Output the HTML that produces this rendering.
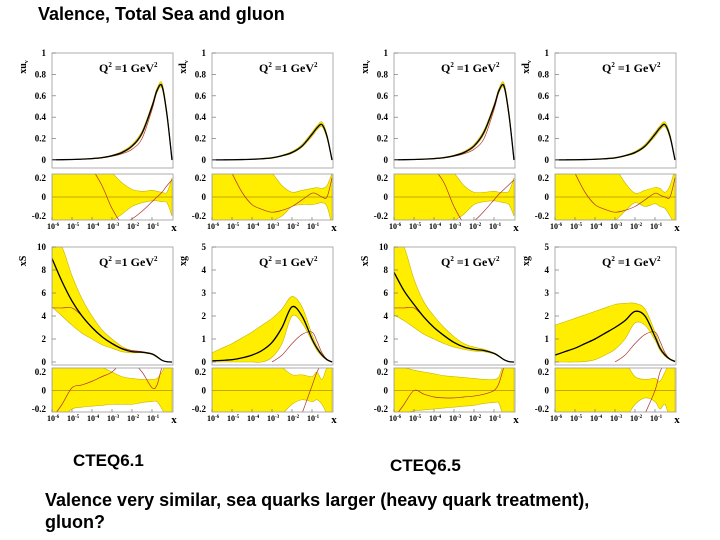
<!DOCTYPE html>
<html><head><meta charset="utf-8">
<style>
body{margin:0;background:#fff;width:720px;height:540px;overflow:hidden;position:relative;font-family:"Liberation Sans",sans-serif}
.t{position:absolute;font-weight:bold;color:#000;white-space:nowrap}
svg{position:absolute;left:0;top:0}
</style></head><body>
<div class="t" style="left:38px;top:4px;font-size:18px">Valence, Total Sea and gluon</div>
<div class="t" style="left:73px;top:451px;font-size:17px">CTEQ6.1</div>
<div class="t" style="left:390px;top:456px;font-size:17px">CTEQ6.5</div>
<div class="t" style="left:45px;top:489px;font-size:18px;line-height:22px">Valence very similar, sea quarks larger (heavy quark treatment),<br>gluon?</div>
<svg id="chart" width="720" height="540"></svg>
<script>
const logX=[-6,-5.5,-5,-4.5,-4,-3.5,-3,-2.5,-2,-1.5,-1,-0.75,-0.5,-0.25,0];
const n=null;
// Panel 1: xu_v CTEQ6.1
const p1C=[0.002,0.003,0.005,0.008,0.013,0.022,0.04,0.07,0.13,0.25,0.5,0.65,0.69,0.42,0];
const p1U=[0.003,0.004,0.006,0.01,0.016,0.026,0.045,0.08,0.145,0.27,0.52,0.67,0.72,0.45,0.01];
const p1L=[0.001,0.002,0.004,0.006,0.01,0.018,0.035,0.062,0.12,0.235,0.48,0.63,0.67,0.4,0];
const p1R=[0.002,0.003,0.005,0.008,0.013,0.02,0.035,0.058,0.1,0.2,0.47,0.64,0.7,0.43,0];
const p1RU=[0.3,0.3,0.3,0.3,0.3,0.3,0.25,0.15,0.08,0.06,0.07,0.06,0.05,0.05,0.2];
const p1RL=[-0.3,-0.3,-0.3,-0.3,-0.3,-0.3,-0.25,-0.18,-0.1,-0.06,-0.04,-0.04,-0.05,-0.06,-0.2];
const p1RR=[n,n,n,n,0.3,0.12,-0.12,-0.27,-0.23,-0.15,-0.05,0.0,0.05,0.12,0.18];
// Panel 2: xd_v CTEQ6.1
const p2C=[0.001,0.0015,0.002,0.004,0.007,0.012,0.02,0.04,0.07,0.13,0.24,0.3,0.33,0.22,0];
const p2U=[0.002,0.003,0.004,0.006,0.009,0.015,0.025,0.045,0.08,0.145,0.26,0.32,0.355,0.24,0.01];
const p2L=[0,0.001,0.001,0.002,0.005,0.009,0.016,0.035,0.062,0.12,0.22,0.28,0.31,0.2,0];
const p2R=[0.001,0.0015,0.002,0.004,0.007,0.012,0.02,0.038,0.068,0.13,0.245,0.3,0.33,0.22,0];
const p2RU=[0.3,0.3,0.3,0.3,0.3,0.3,0.25,0.12,0.05,0.07,0.09,0.1,0.09,0.12,0.25];
const p2RL=[-0.3,-0.3,-0.3,-0.3,-0.3,-0.3,-0.25,-0.2,-0.1,-0.08,-0.08,-0.07,-0.06,-0.1,-0.3];
const p2RR=[n,n,0.25,0.05,-0.08,-0.13,-0.16,-0.14,-0.1,-0.03,0.04,0.03,0.0,0.0,0.2];
// Panel 3: xu_v CTEQ6.5
const p3C=[0.002,0.003,0.005,0.008,0.013,0.022,0.04,0.07,0.13,0.26,0.5,0.65,0.69,0.42,0];
const p3U=[0.003,0.004,0.006,0.01,0.016,0.026,0.045,0.08,0.145,0.28,0.52,0.67,0.72,0.45,0.01];
const p3L=[0.001,0.002,0.004,0.006,0.01,0.018,0.035,0.062,0.12,0.24,0.48,0.63,0.67,0.4,0];
const p3R=[0.002,0.003,0.005,0.008,0.013,0.02,0.035,0.058,0.1,0.2,0.47,0.64,0.7,0.43,0];
const p3RU=[0.3,0.3,0.3,0.3,0.3,0.3,0.25,0.12,0.05,0.05,0.06,0.05,0.05,0.06,0.2];
const p3RL=[-0.3,-0.3,-0.3,-0.3,-0.3,-0.3,-0.25,-0.18,-0.08,-0.05,-0.04,-0.05,-0.06,-0.08,-0.2];
const p3RR=[n,n,n,n,0.3,0.15,-0.1,-0.27,-0.25,-0.15,-0.03,0.03,0.08,0.13,0.18];
// Panel 4: xd_v CTEQ6.5
const p4C=[0.001,0.0015,0.002,0.004,0.007,0.012,0.02,0.04,0.07,0.13,0.24,0.3,0.33,0.22,0];
const p4U=[0.002,0.003,0.004,0.006,0.009,0.015,0.025,0.045,0.08,0.145,0.26,0.32,0.355,0.24,0.01];
const p4L=[0,0.001,0.001,0.002,0.005,0.009,0.016,0.035,0.062,0.12,0.22,0.28,0.31,0.2,0];
const p4R=[0.001,0.0015,0.002,0.004,0.007,0.012,0.02,0.038,0.068,0.13,0.245,0.3,0.33,0.22,0];
const p4RU=[0.3,0.3,0.3,0.3,0.3,0.3,0.3,0.15,0.04,0.07,0.1,0.09,0.05,0.12,0.3];
const p4RL=[-0.3,-0.3,-0.3,-0.3,-0.3,-0.3,-0.25,-0.15,-0.06,-0.1,-0.07,-0.1,-0.12,-0.2,-0.3];
const p4RR=[n,n,0.25,0.05,-0.08,-0.13,-0.16,-0.14,-0.1,-0.03,0.04,0.02,0.0,0.0,0.2];
// Panel 5: xS CTEQ6.1
const p5C=[9,7,5.3,4,3,2.2,1.6,1.15,0.9,0.85,0.7,0.45,0.15,0.02,0];
const p5U=[11,10,7.5,5.5,4,2.8,2,1.35,1.0,0.9,0.75,0.5,0.17,0.03,0];
const p5L=[4.8,4,3.2,2.5,2,1.5,1.2,0.9,0.8,0.8,0.65,0.4,0.12,0.01,0];
const p5R=[4.7,4.7,4.7,4,3,2.2,1.65,1.2,1.0,0.9,0.72,0.45,0.15,0.02,0];
const p5RU=[0.3,0.3,0.3,0.3,0.3,0.25,0.2,0.15,0.13,0.12,0.12,0.13,0.2,0.3,0.3];
const p5RL=[-0.3,-0.3,-0.2,-0.18,-0.17,-0.16,-0.15,-0.15,-0.15,-0.13,-0.12,-0.12,-0.2,-0.3,-0.3];
const p5RR=[-0.3,-0.15,0.03,0.06,0.1,0.15,0.2,0.3,0.3,0.2,0.03,0.06,0.25,0.3,0.3];
// Panel 6: xg CTEQ6.1
const p6C=[0.05,0.07,0.1,0.18,0.3,0.5,0.85,1.5,2.4,2.0,1.0,0.6,0.3,0.1,0];
const p6U=[0.4,0.6,0.8,1.05,1.3,1.6,1.9,2.3,2.85,2.4,1.2,0.7,0.35,0.12,0.02];
const p6L=[0,0,0,0,0,0,0.2,0.8,2.0,1.7,0.9,0.5,0.25,0.08,0];
const p6R=[n,n,n,n,n,n,0,0.3,0.8,1.2,1.3,0.9,0.4,0.12,0];
const p6RU=[0.3,0.3,0.3,0.3,0.3,0.3,0.3,0.25,0.17,0.17,0.15,0.2,0.12,0.25,0.3];
const p6RL=[-0.3,-0.3,-0.3,-0.3,-0.3,-0.3,-0.3,-0.25,-0.15,-0.1,-0.12,-0.1,-0.15,-0.25,-0.3];
const p6RR=[n,n,n,n,n,n,n,n,n,-0.25,0.05,0.2,0.3,n,n];
// Panel 7: xS CTEQ6.5
const p7C=[7.8,6.2,5,3.9,3,2.3,1.7,1.3,1.1,1.0,0.75,0.5,0.2,0.03,0];
const p7U=[11,10,7.2,5.2,4,3,2.2,1.6,1.3,1.1,0.8,0.55,0.22,0.04,0];
const p7L=[4.1,3.6,3,2.4,2,1.6,1.3,1.1,0.95,0.9,0.7,0.45,0.18,0.02,0];
const p7R=[4.7,4.7,4.7,3.9,3,2.3,1.7,1.3,1.1,1.0,0.75,0.5,0.2,0.03,0];
const p7RU=[0.3,0.25,0.22,0.2,0.18,0.16,0.15,0.14,0.13,0.12,0.12,0.15,0.3,0.3,0.3];
const p7RL=[-0.3,-0.25,-0.22,-0.21,-0.2,-0.19,-0.18,-0.17,-0.16,-0.14,-0.13,-0.14,-0.3,-0.3,-0.3];
const p7RR=[-0.3,-0.15,0.0,-0.04,-0.07,-0.08,-0.08,-0.07,-0.06,-0.04,0.0,0.08,0.25,0.3,0.3];
// Panel 8: xg CTEQ6.5
const p8C=[0.3,0.45,0.6,0.8,1.0,1.25,1.5,1.8,2.2,2.0,1.1,0.6,0.3,0.12,0.03];
const p8U=[1.6,1.75,1.9,2.05,2.2,2.35,2.5,2.55,2.55,2.3,1.3,0.7,0.35,0.15,0.04];
const p8L=[0,0,0,0.02,0.1,0.3,0.55,1.0,1.7,1.6,0.95,0.5,0.25,0.1,0.02];
const p8R=[n,n,n,n,n,n,0,0.3,0.8,1.2,1.3,0.9,0.4,0.12,0];
const p8RU=[0.3,0.3,0.3,0.3,0.3,0.3,0.3,0.3,0.15,0.12,0.13,0.1,0.2,0.3,0.3];
const p8RL=[-0.3,-0.3,-0.3,-0.3,-0.3,-0.3,-0.3,-0.3,-0.15,-0.08,-0.12,-0.2,-0.15,-0.3,-0.3];
const p8RR=[n,n,n,n,n,n,n,n,n,-0.25,0.0,0.2,0.3,n,n];
const topTicks=[0,0.2,0.4,0.6,0.8,1];
const topTickLabels=['0','0.2','0.4','0.6','0.8','1'];
const botTicks5=[0,2,4,6,8,10];
const botTicks5g=[0,1,2,3,4,5];
const ratioTicks=[0.2,0,-0.2];
const ratioTickLabels=['0.2','0','-0.2'];
const xDecades=[-6,-5,-4,-3,-2,-1];
const xDecadeLabels=['-6','-5','-4','-3','-2','-1'];

const NS='http://www.w3.org/2000/svg';
const svg=document.getElementById('chart');
function mk(tag,attrs,parent){const e=document.createElementNS(NS,tag);for(const k in attrs)e.setAttribute(k,attrs[k]);(parent||svg).appendChild(e);return e;}
function spline(pts){if(pts.length<2)return '';let d='M'+pts[0][0]+','+pts[0][1];for(let i=0;i<pts.length-1;i++){const p0=pts[i-1]||pts[i],p1=pts[i],p2=pts[i+1],p3=pts[i+2]||p2;const c1x=p1[0]+(p2[0]-p0[0])/6,c1y=p1[1]+(p2[1]-p0[1])/6,c2x=p2[0]-(p3[0]-p1[0])/6,c2y=p2[1]-(p3[1]-p1[1])/6;d+=' C'+c1x+','+c1y+' '+c2x+','+c2y+' '+p2[0]+','+p2[1];}return d;}
function segs(xs,ys,sx,sy){const out=[];let cur=[];for(let i=0;i<xs.length;i++){if(ys[i]===null){if(cur.length)out.push(cur);cur=[];}else cur.push([sx(xs[i]),sy(ys[i])]);}if(cur.length)out.push(cur);return out;}
let clipId=0;
function box(x0,x1,y0,y1,name){const id='c'+(clipId++);const cp=mk('clipPath',{id:id});mk('rect',{x:x0,y:y0,width:x1-x0,height:y1-y0},cp);const g=mk('g',{'clip-path':'url(#'+id+')'});

return g;}
function txt(x,y,s,size,anchor,name,parent){const t=mk('text',{x:x,y:y,'font-family':'Liberation Serif, serif','font-weight':'bold','font-size':size,'text-anchor':anchor||'start',fill:'#000'},parent);t.textContent=s;

return t;}
function drawPanel(cfg){
 const x0=cfg.x, x1=cfg.x+121;
 const sx=v=>x0+(v+6)*20;
 const sy=v=>cfg.y0px+(v-cfg.ymin)/(cfg.ymax-cfg.ymin)*(cfg.y1px-cfg.y0px);
 const g=box(x0,x1,cfg.top,cfg.bot,cfg.name+'-plot');
 const up=segs(logX,cfg.U,sx,sy)[0], lo=segs(logX,cfg.L,sx,sy)[0];
 const bp=mk('path',{d:spline(up)+' L'+spline(lo.slice().reverse()).slice(1)+' Z',fill:'#ffee00',stroke:'#c8b400','stroke-width':0.6},g);
 
 
 segs(logX,cfg.R,sx,sy).forEach(s=>{const p=mk('path',{d:spline(s),fill:'none',stroke:'#b03030','stroke-width':0.7},g);
 
 });
 segs(logX,cfg.C,sx,sy).forEach(s=>{const p=mk('path',{d:spline(s),fill:'none',stroke:'#000','stroke-width':1.3},g);
 
 });
 const f=mk('rect',{x:x0,y:cfg.top,width:121,height:cfg.bot-cfg.top,fill:'none',stroke:'#999','stroke-width':0.8});
 
 
 cfg.ticks.forEach((v,i)=>{mk('line',{x1:x0,x2:x0+4,y1:sy(v),y2:sy(v),stroke:'#777','stroke-width':0.7});txt(x0-6,sy(v)+3,cfg.tickLabels[i],9,'end','y-tick-label');});
 const yl=txt(0,0,'',10,'middle','y-axis-title');yl.setAttribute('transform','translate('+(x0-26)+','+(cfg.top+14)+') rotate(-90)');
 yl.textContent=cfg.ylab; if(cfg.sub){const ts=mk('tspan',{'font-size':6,dy:2},yl);ts.textContent=cfg.sub;}
 const q=txt(x0+47,cfg.top+19,'Q',12,'start','q2-annotation');const a=mk('tspan',{'font-size':7,dy:-5},q);a.textContent='2';const b=mk('tspan',{dy:5},q);b.textContent=' =1 GeV';const c=mk('tspan',{'font-size':7,dy:-5},q);c.textContent='2';
 const rsy=v=>cfg.r0px+(v-0.2)/(-0.4)*(cfg.r1px-cfg.r0px);
 const rg=box(x0,x1,cfg.rtop,cfg.rbot,cfg.name+'-ratio-plot');
 const ru=segs(logX,cfg.RU,sx,rsy)[0], rl=segs(logX,cfg.RL,sx,rsy)[0];
 const rb=mk('path',{d:spline(ru)+' L'+spline(rl.slice().reverse()).slice(1)+' Z',fill:'#ffee00',stroke:'#c8b400','stroke-width':0.6},rg);
 
 
 mk('line',{x1:x0,x2:x1,y1:rsy(0),y2:rsy(0),stroke:'#b09000','stroke-width':0.7},rg);
 segs(logX,cfg.RR,sx,rsy).forEach(s=>{const p=mk('path',{d:spline(s),fill:'none',stroke:'#b03030','stroke-width':0.7},rg);
 
 });
 const rf=mk('rect',{x:x0,y:cfg.rtop,width:121,height:cfg.rbot-cfg.rtop,fill:'none',stroke:'#999','stroke-width':0.8});
 
 
 ratioTicks.forEach((v,i)=>txt(x0-6,rsy(v)+3,ratioTickLabels[i],9,'end','ratio-tick-label'));
 xDecades.forEach((v,i)=>{const t=txt(sx(v)-5,cfg.rbot+9,'10',8,'start','x-tick-label');const s=mk('tspan',{'font-size':5,dy:-3},t);s.textContent=xDecadeLabels[i];mk('line',{x1:sx(v),x2:sx(v),y1:cfg.rbot,y2:cfg.rbot-3,stroke:'#777','stroke-width':0.7});});
 txt(x1+1,cfg.rbot+11,'x',11,'middle','x-axis-title');
}
const cols=[52,212,394,555];
const topCfg={top:53,bot:168,y0px:160,y1px:53,ymin:0,ymax:1,rtop:174,rbot:220,r0px:178,r1px:216,ticks:topTicks,tickLabels:topTickLabels};
const botCfg={top:247,bot:365,y0px:362,y1px:247,ymin:0,rtop:368,rbot:412,r0px:372,r1px:409};
drawPanel(Object.assign({},topCfg,{x:cols[0],name:'xuv-cteq61',ylab:'xu',sub:'v',C:p1C,U:p1U,L:p1L,R:p1R,RU:p1RU,RL:p1RL,RR:p1RR}));
drawPanel(Object.assign({},topCfg,{x:cols[1],name:'xdv-cteq61',ylab:'xd',sub:'v',C:p2C,U:p2U,L:p2L,R:p2R,RU:p2RU,RL:p2RL,RR:p2RR}));
drawPanel(Object.assign({},topCfg,{x:cols[2],name:'xuv-cteq65',ylab:'xu',sub:'v',C:p3C,U:p3U,L:p3L,R:p3R,RU:p3RU,RL:p3RL,RR:p3RR}));
drawPanel(Object.assign({},topCfg,{x:cols[3],name:'xdv-cteq65',ylab:'xd',sub:'v',C:p4C,U:p4U,L:p4L,R:p4R,RU:p4RU,RL:p4RL,RR:p4RR}));
drawPanel(Object.assign({},botCfg,{x:cols[0],name:'xs-cteq61',ymax:10,ticks:botTicks5,tickLabels:botTicks5.map(String),ylab:'xS',C:p5C,U:p5U,L:p5L,R:p5R,RU:p5RU,RL:p5RL,RR:p5RR}));
drawPanel(Object.assign({},botCfg,{x:cols[1],name:'xg-cteq61',ymax:5,ticks:botTicks5g,tickLabels:botTicks5g.map(String),ylab:'xg',C:p6C,U:p6U,L:p6L,R:p6R,RU:p6RU,RL:p6RL,RR:p6RR}));
drawPanel(Object.assign({},botCfg,{x:cols[2],name:'xs-cteq65',ymax:10,ticks:botTicks5,tickLabels:botTicks5.map(String),ylab:'xS',C:p7C,U:p7U,L:p7L,R:p7R,RU:p7RU,RL:p7RL,RR:p7RR}));
drawPanel(Object.assign({},botCfg,{x:cols[3],name:'xg-cteq65',ymax:5,ticks:botTicks5g,tickLabels:botTicks5g.map(String),ylab:'xg',C:p8C,U:p8U,L:p8L,R:p8R,RU:p8RU,RL:p8RL,RR:p8RR}));
</script>
</body></html>
